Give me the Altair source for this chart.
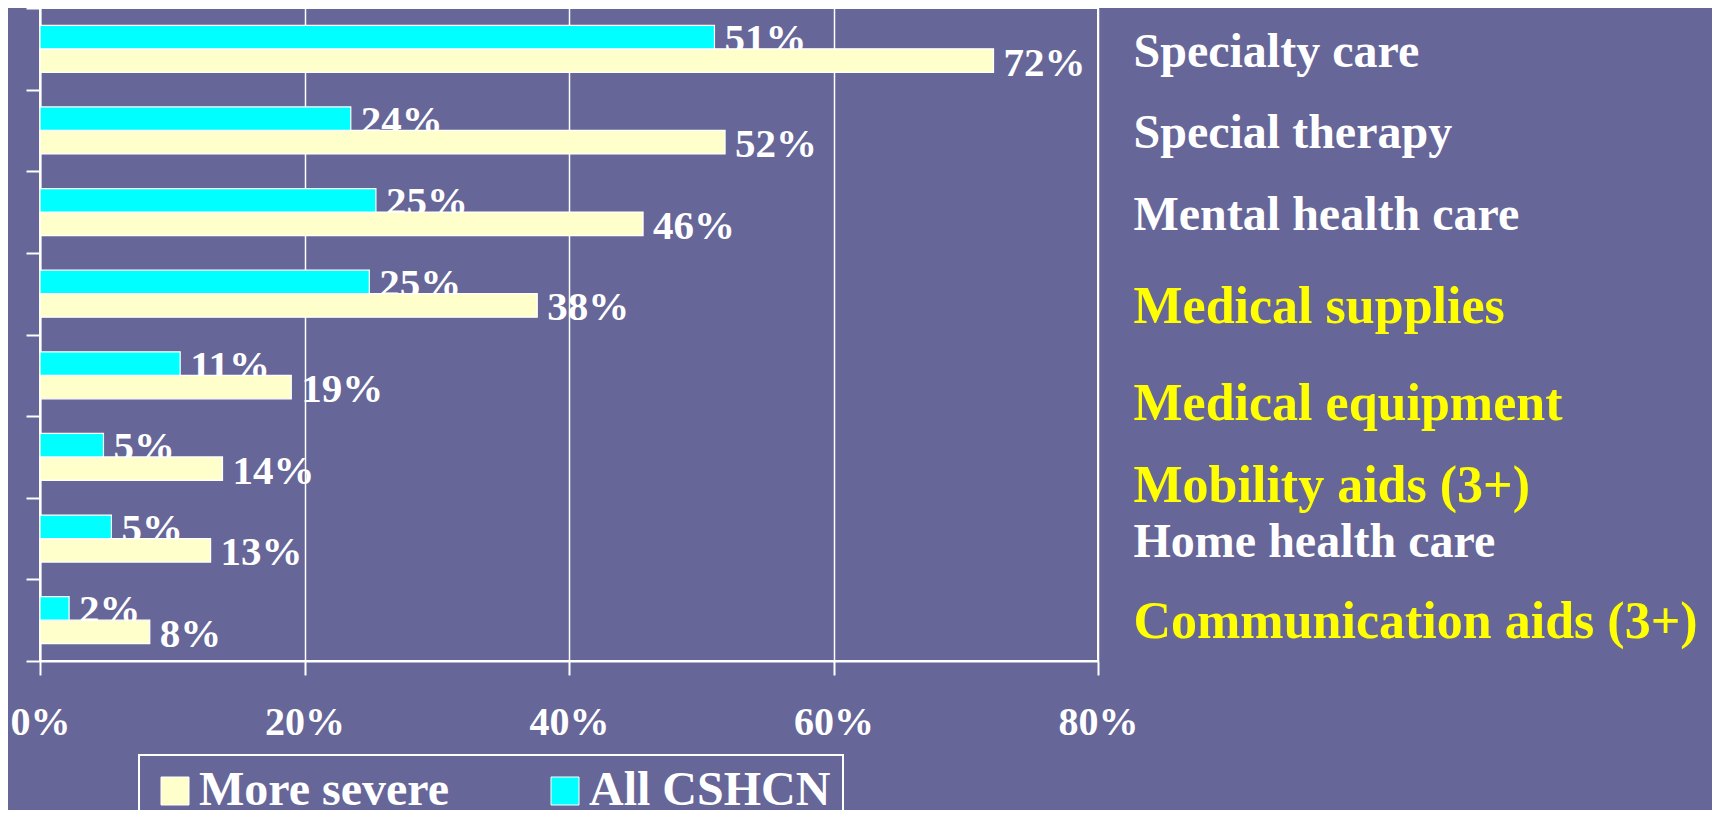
import json
import altair as alt
import pandas as pd

categories = [
    "Specialty care", "Special therapy", "Mental health care", "Medical supplies",
    "Medical equipment", "Mobility aids (3+)", "Home health care", "Communication aids (3+)",
]
more_severe = [72.1, 51.8, 45.6, 37.6, 19.0, 13.8, 12.9, 8.3]
all_cshcn = [51.0, 23.5, 25.4, 24.9, 10.6, 4.8, 5.4, 2.2]
more_severe_labels = ["72%", "52%", "46%", "38%", "19%", "14%", "13%", "8%"]
all_cshcn_labels = ["51%", "24%", "25%", "25%", "11%", "5%", "5%", "2%"]
series = ["More severe", "All CSHCN"]
highlighted = ["Medical supplies", "Medical equipment", "Mobility aids (3+)", "Communication aids (3+)"]
x_ticks = [0, 20, 40, 60, 80]

rows = []
for c, v, l in zip(categories, more_severe, more_severe_labels):
    rows.append({"category": c, "series": "More severe", "value": v, "label": l})
for c, v, l in zip(categories, all_cshcn, all_cshcn_labels):
    rows.append({"category": c, "series": "All CSHCN", "value": v, "label": l})
df = pd.DataFrame(rows)

FONT = "Liberation Serif"
BG = "#666699"
hl = json.dumps(highlighted)

y_scale = alt.Scale(domain=categories, paddingInner=0, paddingOuter=0)
yoff = alt.YOffset("series:N", scale=alt.Scale(domain=["All CSHCN", "More severe"],
                                               paddingInner=0, paddingOuter=0.737))
x_enc = alt.X(
    "value:Q",
    scale=alt.Scale(domain=[0, 80], nice=False),
    axis=alt.Axis(
        values=x_ticks, title=None, labelExpr="datum.value + '%'",
        grid=True, gridColor="white", gridWidth=1.5,
        domain=True, domainColor="white", domainWidth=2,
        ticks=True, tickColor="white", tickWidth=2, tickSize=14,
        labelFont=FONT, labelFontWeight="bold", labelFontSize=40, labelColor="white",
        labelPadding=27, labelFlush=False,
    ),
)

left_axis = alt.Axis(
    title=None, labels=False, ticks=True, tickBand="extent", tickSize=14,
    tickColor="white", tickWidth=2, domain=True, domainColor="white", domainWidth=2,
    grid=False,
)

right_axis = alt.Axis(
    orient="right", title=None, domain=False, ticks=False, tickSize=0, grid=False,
    labelPadding=35, labelLimit=0, labelAlign="left", labelBaseline="alphabetic",
    labelFont=FONT, labelFontWeight="bold",
    labelFontSize=alt.ExprRef(expr=f"indexof({hl}, datum.value) >= 0 ? 52 : 48"),
    labelColor=alt.ExprRef(expr=f"indexof({hl}, datum.value) >= 0 ? '#FFFF00' : '#FFFFFF'"),
    labelOffset=alt.ExprRef(expr=(
        "datum.value == 'Medical supplies' ? 29 : "
        "(datum.value == 'Medical equipment' || datum.value == 'Mobility aids (3+)') ? 45 : 18"
    )),
)

color = alt.Color(
    "series:N",
    scale=alt.Scale(domain=series, range=["#FFFFCC", "#00FFFF"]),
    legend=alt.Legend(
        title=None, orient="none", legendX=99, legendY=747, direction="horizontal",
        symbolType="square", symbolSize=784, symbolStrokeColor="white", symbolStrokeWidth=1,
        symbolOpacity=1, labelFont=FONT, labelFontWeight="bold", labelFontSize=48,
        labelColor="white", labelOffset=0, columnPadding=91, padding=12,
        strokeColor="white", labelLimit=0,
    ),
)

text_style = dict(align="left", baseline="alphabetic", dx=10, dy=15, font=FONT,
                  fontWeight="bold", fontSize=41, color="white")

cyan_text = alt.Chart(df).transform_filter(alt.datum.series == "All CSHCN").mark_text(**text_style).encode(
    x=alt.X("value:Q"),
    y=alt.Y("category:N", sort=categories, scale=y_scale, axis=right_axis),
    yOffset=yoff,
    text="label:N",
)

bars = alt.Chart(df).mark_bar(stroke="white", strokeWidth=1.2).encode(
    x=x_enc,
    y=alt.Y("category:N", sort=categories, scale=y_scale, axis=left_axis),
    yOffset=yoff,
    color=color,
)

yellow_text = alt.Chart(df).transform_filter(alt.datum.series == "More severe").mark_text(**text_style).encode(
    x=alt.X("value:Q"),
    y=alt.Y("category:N", sort=categories, scale=y_scale, axis=None),
    yOffset=yoff,
    text="label:N",
)

chart = (
    alt.layer(cyan_text, bars, yellow_text)
    .resolve_axis(y="independent")
    .properties(
        width=1058, height=653, background=BG,
        autosize=alt.AutoSizeParams(type="none"),
        padding={"left": 32, "top": 0, "right": 614, "bottom": 149},
    )
    .configure_view(stroke="white", strokeWidth=2)
    .configure_legend(strokeWidth=2)
)

chart.save("out.html", embed_options={"renderer": "svg", "actions": False})
